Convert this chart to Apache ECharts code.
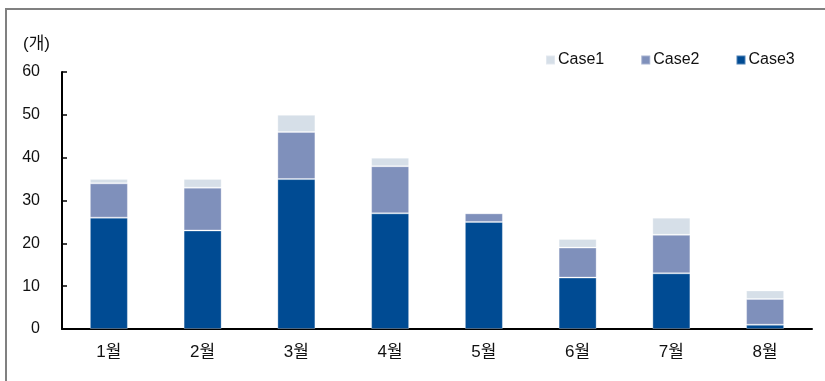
<!DOCTYPE html>
<html>
<head>
<meta charset="utf-8">
<script src="https://cdn.jsdelivr.net/npm/echarts@6/dist/echarts.min.js"></script>
<style>html,body{margin:0;padding:0;background:#fff}#c{width:825px;height:381px}</style>
</head>
<body>
<div id="c"></div>
<script>
const categories = ['1월','2월','3월','4월','5월','6월','7월','8월'];
const case3 = [26, 23, 35, 27, 25, 12, 13, 1];
const case2 = [8, 10, 11, 11, 2, 7, 9, 6];
const case1 = [1, 2, 4, 2, 0, 2, 4, 2];
const yTicks = [0, 10, 20, 30, 40, 50, 60];
const unitLabel = '(개)';

const font = "'Liberation Sans', 'Noto Sans CJK KR', sans-serif";
const chart = echarts.init(document.getElementById('c'));
const barBorder = {borderColor: 'rgba(255,255,255,0.3)', borderWidth: 1};
chart.setOption({
  animation: false,
  grid: {left: 62, right: 13, top: 72, bottom: 52},
  graphic: [
    {type: 'polyline', shape: {points: [[6, 381], [6, 9], [825, 9]]}, style: {stroke: '#808080', lineWidth: 2, fill: null}},
    {type: 'text', left: 23, top: 36, style: {text: unitLabel, font: "17px " + font, fill: '#111'}}
  ],
  legend: {
    data: ['Case1', 'Case2', 'Case3'],
    left: 540, top: 47,
    itemWidth: 9, itemHeight: 9, itemGap: 36,
    textStyle: {fontFamily: font, fontSize: 16, color: '#111', padding: [0, 0, 0, -2]},
    icon: 'rect'
  },
  xAxis: {
    type: 'category', data: categories,
    axisLine: {lineStyle: {color: '#000', width: 2}},
    axisTick: {inside: true, length: 5, lineStyle: {color: '#000', width: 1.5}},
    axisLabel: {fontFamily: font, fontSize: 17, color: '#111', margin: 15}
  },
  yAxis: {
    type: 'value', min: yTicks[0], max: yTicks[yTicks.length - 1], interval: 10,
    splitLine: {show: false},
    axisLine: {show: true, lineStyle: {color: '#000', width: 2}},
    axisTick: {show: true, inside: true, length: 5, lineStyle: {color: '#000', width: 1.5}},
    axisLabel: {fontFamily: font, fontSize: 16, color: '#111', margin: 22}
  },
  series: [
    {name: 'Case3', type: 'bar', stack: 's', data: case3, barWidth: 38, itemStyle: Object.assign({color: '#004b93'}, barBorder)},
    {name: 'Case2', type: 'bar', stack: 's', data: case2, barWidth: 38, itemStyle: Object.assign({color: '#7f90bb'}, barBorder)},
    {name: 'Case1', type: 'bar', stack: 's', data: case1, barWidth: 38, itemStyle: Object.assign({color: '#d6dfe8'}, barBorder)}
  ]
});
</script>
</body>
</html>
